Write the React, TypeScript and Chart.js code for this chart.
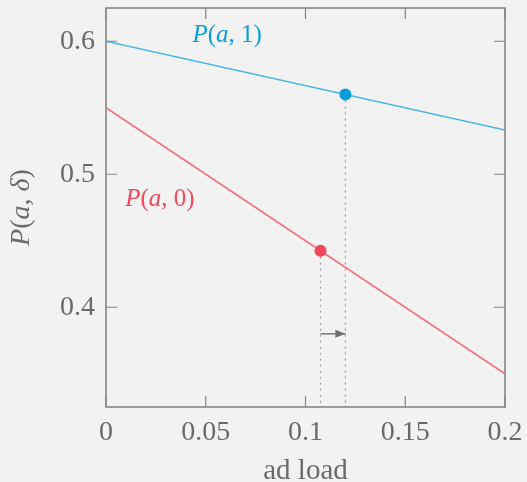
import React, { useEffect, useRef } from 'react';
import { Chart, registerables } from 'chart.js';
Chart.register(...registerables);

const adLoad = [0, 0.2];
const pDelta1 = [0.6, 0.5333];
const pDelta0 = [0.55, 0.35];
const xTicks = [0, 0.05, 0.1, 0.15, 0.2];
const yTicks = [0.4, 0.5, 0.6];
const xTickLabels = ['0', '0.05', '0.1', '0.15', '0.2'];
const yTickLabels = ['0.4', '0.5', '0.6'];
const yRange = [0.325, 0.625];
const eqAdLoad0 = 0.1075;
const eqP0 = 0.4425;
const eqAdLoad1 = 0.12;
const eqP1 = 0.56;
const arrowLevel = 0.38;
const label1At = [0.0607, 0.6045];
const label0At = [0.027, 0.481];

const BLUE_LINE = '#4ab6e6';
const BLUE_PT = '#0b9cda';
const RED_LINE = '#f2737f';
const RED_PT = '#f0485c';
const AXIS = '#858585';
const TEXT = '#6a6a6a';
const FONT = '"Liberation Serif", serif';

function drawMixed(ctx: CanvasRenderingContext2D, parts: [string, boolean][], cx: number, cy: number, size: number, color: string) {
  const fontFor = (it: boolean) => `${it ? 'italic ' : ''}${size}px ${FONT}`;
  let total = 0;
  const widths = parts.map(([t, it]) => {
    ctx.font = fontFor(it);
    const w = ctx.measureText(t).width;
    total += w;
    return w;
  });
  ctx.fillStyle = color;
  ctx.textBaseline = 'middle';
  ctx.textAlign = 'left';
  let x = cx - total / 2;
  parts.forEach(([t, it], i) => {
    ctx.font = fontFor(it);
    ctx.fillText(t, x, cy);
    x += widths[i];
  });
}

const overlay = {
  id: 'overlay',
  afterDatasetsDraw(chart: any) {
    const ctx: CanvasRenderingContext2D = chart.ctx;
    const xs = chart.scales.x;
    const ys = chart.scales.y;
    const { left, right, top, bottom } = chart.chartArea;
    ctx.save();
    // arrow head
    const ax1 = xs.getPixelForValue(eqAdLoad1);
    const ay = ys.getPixelForValue(arrowLevel);
    ctx.fillStyle = '#6e6e6e';
    ctx.beginPath();
    ctx.moveTo(ax1, ay);
    ctx.lineTo(ax1 - 10, ay - 4);
    ctx.lineTo(ax1 - 10, ay + 4);
    ctx.closePath();
    ctx.fill();
    // frame
    ctx.strokeStyle = AXIS;
    ctx.lineWidth = 1.6;
    ctx.strokeRect(left, top, right - left, bottom - top);
    // ticks
    ctx.lineWidth = 1.2;
    ctx.beginPath();
    xTicks.forEach((v) => {
      const px = xs.getPixelForValue(v);
      ctx.moveTo(px, bottom);
      ctx.lineTo(px, bottom - 11);
      ctx.moveTo(px, top);
      ctx.lineTo(px, top + 11);
    });
    yTicks.forEach((v) => {
      const py = ys.getPixelForValue(v);
      ctx.moveTo(left, py);
      ctx.lineTo(left + 11, py);
      ctx.moveTo(right, py);
      ctx.lineTo(right - 11, py);
    });
    ctx.stroke();
    // series labels
    drawMixed(ctx, [['P', true], ['(', false], ['a', true], [', ', false], ['1', false], [')', false]],
      xs.getPixelForValue(label1At[0]), ys.getPixelForValue(label1At[1]), 25, BLUE_PT);
    drawMixed(ctx, [['P', true], ['(', false], ['a', true], [', ', false], ['0', false], [')', false]],
      xs.getPixelForValue(label0At[0]), ys.getPixelForValue(label0At[1]), 25, RED_PT);
    // axis titles
    drawMixed(ctx, [['ad load', false]], (left + right) / 2, 471, 29, TEXT);
    ctx.translate(22, (top + bottom) / 2);
    ctx.rotate(-Math.PI / 2);
    drawMixed(ctx, [['P', true], ['(', false], ['a', true], [', ', false], ['δ', true], [')', false]], 0, 0, 28, TEXT);
    ctx.restore();
  },
};

export default function App() {
  const ref = useRef<HTMLCanvasElement>(null);
  useEffect(() => {
    document.body.style.margin = '0';
    document.body.style.background = '#f2f2f2';
    const pts = (xsv: number[], ysv: number[]) => xsv.map((x, i) => ({ x, y: ysv[i] }));
    const chart = new Chart(ref.current!, {
      type: 'scatter',
      data: {
        datasets: [
          { data: pts([eqAdLoad1], [eqP1]), pointRadius: 6, pointBackgroundColor: BLUE_PT, pointBorderWidth: 0, showLine: false } as any,
          { data: pts([eqAdLoad0], [eqP0]), pointRadius: 6, pointBackgroundColor: RED_PT, pointBorderWidth: 0, showLine: false } as any,
          { data: pts(adLoad, pDelta1), showLine: true, borderColor: BLUE_LINE, borderWidth: 1.6, pointRadius: 0 },
          { data: pts(adLoad, pDelta0), showLine: true, borderColor: RED_LINE, borderWidth: 1.6, pointRadius: 0 },
          { data: pts([eqAdLoad0, eqAdLoad0], [eqP0, yRange[0]]), showLine: true, borderColor: '#9a9a9a', borderWidth: 1.2, borderDash: [2, 4], pointRadius: 0 },
          { data: pts([eqAdLoad1, eqAdLoad1], [eqP1, yRange[0]]), showLine: true, borderColor: '#9a9a9a', borderWidth: 1.2, borderDash: [2, 4], pointRadius: 0 },
          { data: pts([eqAdLoad0, eqAdLoad1], [arrowLevel, arrowLevel]), showLine: true, borderColor: '#6e6e6e', borderWidth: 1.4, pointRadius: 0 },
        ],
      },
      options: {
        animation: false,
        responsive: false,
        events: [],
        layout: { padding: { top: 8, right: 22, left: 0, bottom: 0 } },
        plugins: { legend: { display: false }, tooltip: { enabled: false } },
        scales: {
          x: {
            type: 'linear',
            min: adLoad[0],
            max: adLoad[1],
            grid: { display: false, drawTicks: false },
            border: { display: false },
            afterBuildTicks: (s: any) => { s.ticks = xTicks.map((v) => ({ value: v })); },
            afterFit: (s: any) => { s.height = 75; s.paddingLeft = 0; s.paddingRight = 0; },
            ticks: {
              autoSkip: false,
              maxRotation: 0,
              padding: 9,
              color: TEXT,
              font: { family: FONT, size: 28 },
              callback: (_v: any, i: number) => xTickLabels[i],
            },
          },
          y: {
            type: 'linear',
            min: yRange[0],
            max: yRange[1],
            grid: { display: false, drawTicks: false },
            border: { display: false },
            afterBuildTicks: (s: any) => { s.ticks = yTicks.map((v) => ({ value: v })); },
            afterFit: (s: any) => { s.width = 106; s.paddingTop = 0; s.paddingBottom = 0; },
            ticks: {
              autoSkip: false,
              padding: 11,
              color: TEXT,
              font: { family: FONT, size: 28 },
              callback: (_v: any, i: number) => yTickLabels[i],
            },
          },
        },
      },
      plugins: [overlay],
    });
    return () => chart.destroy();
  }, []);
  return (
    <div style={{ position: 'fixed', left: 0, top: 0, width: 527, height: 482, background: '#f2f2f2' }}>
      <canvas ref={ref} width={527} height={482} style={{ display: 'block' }} />
    </div>
  );
}
